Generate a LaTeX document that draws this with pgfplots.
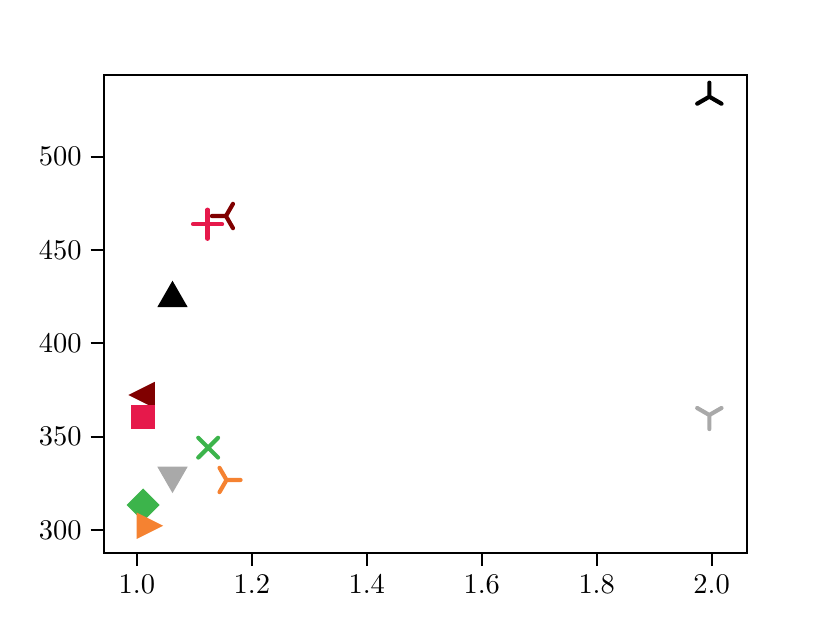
\documentclass[border=0pt]{standalone}
\usepackage{pgfplots}
\pgfplotsset{compat=1.18}

\definecolor{cRed}{HTML}{E6194B}
\definecolor{cMaroon}{HTML}{800000}
\definecolor{cGreen}{HTML}{3CB44B}
\definecolor{cOrange}{HTML}{F58231}
\definecolor{cGrey}{HTML}{A9A9A9}

% matplotlib-like marks
\pgfdeclareplotmark{mtriup}{%
  \pgfpathmoveto{\pgfqpoint{0pt}{\pgfplotmarksize}}%
  \pgfpathlineto{\pgfqpoint{-1.15\pgfplotmarksize}{-\pgfplotmarksize}}%
  \pgfpathlineto{\pgfqpoint{1.15\pgfplotmarksize}{-\pgfplotmarksize}}%
  \pgfpathclose\pgfusepathqfillstroke}
\pgfdeclareplotmark{mtridown}{%
  \pgfpathmoveto{\pgfqpoint{0pt}{-\pgfplotmarksize}}%
  \pgfpathlineto{\pgfqpoint{-1.15\pgfplotmarksize}{\pgfplotmarksize}}%
  \pgfpathlineto{\pgfqpoint{1.15\pgfplotmarksize}{\pgfplotmarksize}}%
  \pgfpathclose\pgfusepathqfillstroke}
\pgfdeclareplotmark{mtrileft}{%
  \pgfpathmoveto{\pgfqpoint{-\pgfplotmarksize}{0pt}}%
  \pgfpathlineto{\pgfqpoint{\pgfplotmarksize}{\pgfplotmarksize}}%
  \pgfpathlineto{\pgfqpoint{\pgfplotmarksize}{-\pgfplotmarksize}}%
  \pgfpathclose\pgfusepathqfillstroke}
\pgfdeclareplotmark{mtriright}{%
  \pgfpathmoveto{\pgfqpoint{\pgfplotmarksize}{0pt}}%
  \pgfpathlineto{\pgfqpoint{-\pgfplotmarksize}{\pgfplotmarksize}}%
  \pgfpathlineto{\pgfqpoint{-\pgfplotmarksize}{-\pgfplotmarksize}}%
  \pgfpathclose\pgfusepathqfillstroke}
\pgfdeclareplotmark{msquare}{%
  \pgfpathrectangle{\pgfqpoint{-\pgfplotmarksize}{-\pgfplotmarksize}}%
    {\pgfqpoint{2\pgfplotmarksize}{2\pgfplotmarksize}}%
  \pgfusepathqfillstroke}
\pgfdeclareplotmark{mdiamond}{%
  \pgfpathmoveto{\pgfqpoint{0pt}{\pgfplotmarksize}}%
  \pgfpathlineto{\pgfqpoint{\pgfplotmarksize}{0pt}}%
  \pgfpathlineto{\pgfqpoint{0pt}{-\pgfplotmarksize}}%
  \pgfpathlineto{\pgfqpoint{-\pgfplotmarksize}{0pt}}%
  \pgfpathclose\pgfusepathqfillstroke}
\pgfdeclareplotmark{mplus}{%
  \pgfpathmoveto{\pgfqpoint{-\pgfplotmarksize}{0pt}}%
  \pgfpathlineto{\pgfqpoint{\pgfplotmarksize}{0pt}}%
  \pgfpathmoveto{\pgfqpoint{0pt}{-\pgfplotmarksize}}%
  \pgfpathlineto{\pgfqpoint{0pt}{\pgfplotmarksize}}%
  \pgfusepathqstroke}
\pgfdeclareplotmark{mx}{%
  \pgfpathmoveto{\pgfqpoint{-\pgfplotmarksize}{-\pgfplotmarksize}}%
  \pgfpathlineto{\pgfqpoint{\pgfplotmarksize}{\pgfplotmarksize}}%
  \pgfpathmoveto{\pgfqpoint{-\pgfplotmarksize}{\pgfplotmarksize}}%
  \pgfpathlineto{\pgfqpoint{\pgfplotmarksize}{-\pgfplotmarksize}}%
  \pgfusepathqstroke}
% tri markers (line markers): stem direction + two arms
\pgfdeclareplotmark{mstarup}{% '2'
  \pgfpathmoveto{\pgfpointorigin}\pgfpathlineto{\pgfpointpolar{90}{\pgfplotmarksize}}%
  \pgfpathmoveto{\pgfpointorigin}\pgfpathlineto{\pgfpointpolar{-30}{\pgfplotmarksize}}%
  \pgfpathmoveto{\pgfpointorigin}\pgfpathlineto{\pgfpointpolar{210}{\pgfplotmarksize}}%
  \pgfusepathqstroke}
\pgfdeclareplotmark{mstardown}{% '1'
  \pgfpathmoveto{\pgfpointorigin}\pgfpathlineto{\pgfpointpolar{270}{\pgfplotmarksize}}%
  \pgfpathmoveto{\pgfpointorigin}\pgfpathlineto{\pgfpointpolar{30}{\pgfplotmarksize}}%
  \pgfpathmoveto{\pgfpointorigin}\pgfpathlineto{\pgfpointpolar{150}{\pgfplotmarksize}}%
  \pgfusepathqstroke}
\pgfdeclareplotmark{mstarleft}{% '3'
  \pgfpathmoveto{\pgfpointorigin}\pgfpathlineto{\pgfpointpolar{180}{\pgfplotmarksize}}%
  \pgfpathmoveto{\pgfpointorigin}\pgfpathlineto{\pgfpointpolar{60}{\pgfplotmarksize}}%
  \pgfpathmoveto{\pgfpointorigin}\pgfpathlineto{\pgfpointpolar{-60}{\pgfplotmarksize}}%
  \pgfusepathqstroke}
\pgfdeclareplotmark{mstarright}{% '4'
  \pgfpathmoveto{\pgfpointorigin}\pgfpathlineto{\pgfpointpolar{0}{\pgfplotmarksize}}%
  \pgfpathmoveto{\pgfpointorigin}\pgfpathlineto{\pgfpointpolar{120}{\pgfplotmarksize}}%
  \pgfpathmoveto{\pgfpointorigin}\pgfpathlineto{\pgfpointpolar{240}{\pgfplotmarksize}}%
  \pgfusepathqstroke}

\pgfplotsset{
  filled/.style={only marks, mark size=4.7pt, draw=#1, fill=#1, line width=0.5pt,
    mark options={draw=#1, fill=#1, line width=0.5pt}},
  stroked/.style={only marks, mark size=5.4pt, draw=#1, line width=1.6pt,
    mark options={draw=#1, line width=1.6pt, line cap=round}},
}

\begin{document}
\begin{tikzpicture}
\path[use as bounding box] (0,0) rectangle (319.2pt,239.6pt);
\begin{axis}[
  scale only axis, at={(39.9pt,27pt)}, anchor=south west,
  width=247.4pt, height=183.8pt,
  xmin=0.9424, xmax=2.0616, ymin=287.8, ymax=543.8,
  xtick={1.0,1.2,1.4,1.6,1.8,2.0},
  ytick={300,350,400,450,500},
  xticklabel style={/pgf/number format/fixed,/pgf/number format/fixed zerofill,
    /pgf/number format/precision=1},
  tick label style={font=\fontsize{11}{13}\selectfont},
  axis line style={line width=0.8pt}, tick style={line width=0.8pt, black},
  major tick length=5pt, tick align=outside,
  xtick pos=bottom, ytick pos=left,
  clip=false,
]
\addplot[stroked=black, mark=mstarup] coordinates {(1.996,532.1)};
\addplot[stroked=cGrey, mark=mstardown] coordinates {(1.996,361.6)};
\addplot[stroked=cMaroon, mark=mstarleft] coordinates {(1.155,468.2)};
\addplot[stroked=cRed, mark=mplus, mark size=5.6pt] coordinates {(1.123,463.8)};
\addplot[filled=black, mark=mtriup] coordinates {(1.062,426.3)};
\addplot[filled=cMaroon, mark=mtrileft] coordinates {(1.009,372.3)};
\addplot[filled=cRed, mark=msquare, mark size=4.3pt] coordinates {(1.011,360.7)};
\addplot[stroked=cGreen, mark=mx, mark size=3.8pt] coordinates {(1.124,344.1)};
\addplot[filled=cGrey, mark=mtridown] coordinates {(1.062,327.0)};
\addplot[stroked=cOrange, mark=mstarright] coordinates {(1.156,326.8)};
\addplot[filled=cGreen, mark=mdiamond, mark size=6.0pt] coordinates {(1.011,313.4)};
\addplot[filled=cOrange, mark=mtriright] coordinates {(1.022,302.3)};
\end{axis}
\end{tikzpicture}
\end{document}
